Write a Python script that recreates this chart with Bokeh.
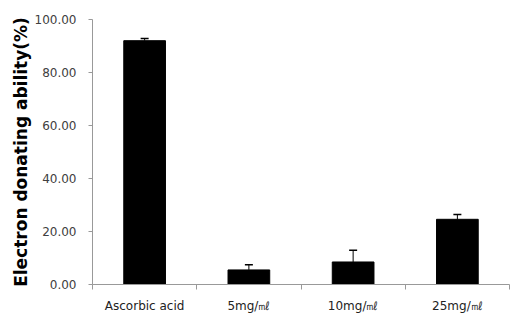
from bokeh.plotting import figure
from bokeh.models import ColumnDataSource, FixedTicker, Whisker, TeeHead, Range1d
from bokeh.embed import file_html
from bokeh.resources import INLINE

categories = ["Ascorbic acid", "5mg/㎖", "10mg/㎖", "25mg/㎖"]
values = [92.0, 5.5, 8.5, 24.6]
errors = [0.8, 2.0, 4.4, 1.8]
y_ticks = [0, 20, 40, 60, 80, 100]

xs = [i + 1 for i in range(len(categories))]
src = ColumnDataSource(dict(
    x=xs, top=values,
    upper=[v + e for v, e in zip(values, errors)],
))

p = figure(width=510, height=315, output_backend="svg", toolbar_location=None,
           x_range=Range1d(0.5, len(categories) + 0.5), y_range=Range1d(0, 100),
           min_border_left=92, min_border_right=1, min_border_top=19, min_border_bottom=0)
p.outline_line_color = None
p.xgrid.visible = False
p.ygrid.visible = False

p.vbar(x="x", top="top", width=0.4, source=src, fill_color="black", line_color="black")
w = Whisker(base="x", lower="top", upper="upper", source=src, line_color="black", line_width=1,
            upper_head=TeeHead(size=8, line_color="black", line_width=1.5), lower_head=None)
p.add_layout(w)

# x axis
p.xaxis.ticker = FixedTicker(ticks=xs, minor_ticks=[i + 0.5 for i in range(len(categories) + 1)])
p.xaxis.major_label_overrides = {x: c for x, c in zip(xs, categories)}
p.xaxis.major_tick_out = 0
p.xaxis.major_tick_in = 0
p.xaxis.minor_tick_out = 5
p.xaxis.minor_tick_in = 0
p.xaxis.minor_tick_line_color = "#999999"
p.xaxis.axis_line_color = "#999999"
p.xaxis.major_label_standoff = 9
p.xaxis.major_label_text_font = "DejaVu Sans"
p.xaxis.major_label_text_font_size = "12px"
p.xaxis.major_label_text_color = "#222222"

# y axis
p.yaxis.ticker = FixedTicker(ticks=y_ticks)
p.yaxis.major_label_overrides = {t: f"{t:.2f}" for t in y_ticks}
p.yaxis.minor_tick_line_color = None
p.yaxis.major_tick_out = 4
p.yaxis.major_tick_in = 0
p.yaxis.major_tick_line_color = "#999999"
p.yaxis.axis_line_color = "#999999"
p.yaxis.major_label_standoff = 12
p.yaxis.major_label_text_font = "DejaVu Sans"
p.yaxis.major_label_text_font_size = "12px"
p.yaxis.major_label_text_color = "#404040"
p.yaxis.axis_label = "Electron donating ability(%)"
p.yaxis.axis_label_text_font = "DejaVu Sans"
p.yaxis.axis_label_text_font_style = "bold"
p.yaxis.axis_label_text_font_size = "17px"
p.yaxis.axis_label_text_color = "black"
p.yaxis.axis_label_standoff = 1

open("out.html", "w").write(file_html(p, INLINE))
